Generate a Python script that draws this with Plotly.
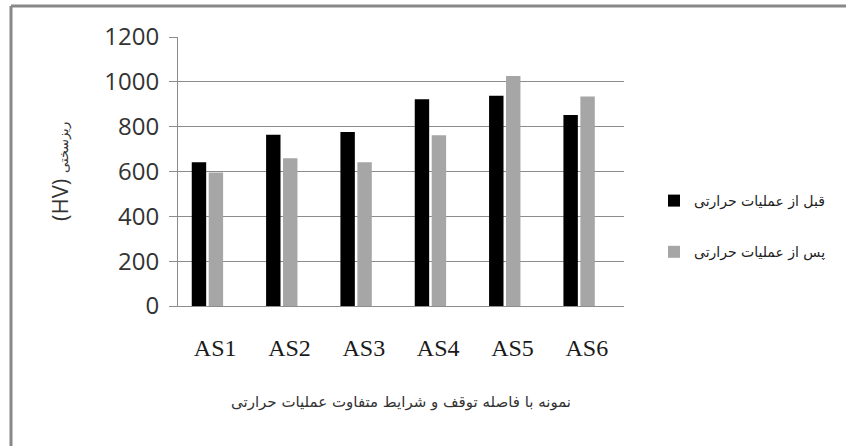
import plotly.graph_objects as go

categories = ["AS1", "AS2", "AS3", "AS4", "AS5", "AS6"]
before_heat = [641, 764, 776, 922, 938, 852]
after_heat = [595, 659, 641, 762, 1026, 935]
series_names = ["قبل از عملیات حرارتی", "پس از عملیات حرارتی"]
y_ticks = [0, 200, 400, 600, 800, 1000, 1200]

W, H = 846, 446
L, R, T, B = 178, 222, 37, 140
pw, ph = W - L - R, H - T - B

fig = go.Figure()
fig.add_trace(go.Bar(x=categories, y=before_heat, name=series_names[0],
                     marker=dict(color="#000000", line=dict(width=0)),
                     width=0.194, offset=-0.315, legendgroup="a"))
fig.add_trace(go.Bar(x=categories, y=after_heat, name=series_names[1],
                     marker=dict(color="#a6a6a6", line=dict(width=0)),
                     width=0.194, offset=-0.087, legendgroup="b"))

def px_x(x):
    return (x - L) / pw

def px_y(y):
    return (H - B - y) / ph

fig.update_layout(
    width=W, height=H,
    margin=dict(l=L, r=R, t=T, b=B),
    paper_bgcolor="white", plot_bgcolor="white",
    barmode="group",
    showlegend=True,
    legend=dict(x=px_x(654), y=px_y(185), xanchor="left", yanchor="top",
                font=dict(family="DejaVu Sans", size=14, color="#222"),
                tracegroupgap=30, itemwidth=30, bgcolor="rgba(0,0,0,0)"),
    xaxis=dict(range=[-0.5, 5.5], showgrid=False, showline=True, linecolor="#8c8c8c",
               linewidth=1, ticks="", zeroline=False,
               tickfont=dict(family="Liberation Serif", size=24, color="#1a1a1a"),
               ticklabelstandoff=20,
               title=dict(text="نمونه با فاصله توقف و شرایط متفاوت عملیات حرارتی",
                          font=dict(family="DejaVu Sans", size=15, color="#333"),
                          standoff=36)),
    yaxis=dict(range=[0, 1200], tickvals=y_ticks, showgrid=True, gridcolor="#8c8c8c",
               gridwidth=1, showline=True, linecolor="#8c8c8c", linewidth=1,
               ticks="outside", ticklen=8, tickcolor="#8c8c8c", zeroline=False,
               tickfont=dict(family="Open Sans", size=24, color="#333"),
               ticklabelstandoff=5,
               title=dict(text="(HV) <span style='font-size:13px'>ریزسختی</span>",
                          font=dict(family="Open Sans", size=22, color="#333"),
                          standoff=29)),
    shapes=[
        dict(type="line", xref="paper", yref="paper",
             x0=px_x(11), x1=px_x(846), y0=px_y(6), y1=px_y(6),
             line=dict(color="#888888", width=3)),
        dict(type="line", xref="paper", yref="paper",
             x0=px_x(11), x1=px_x(11), y0=px_y(6), y1=px_y(446),
             line=dict(color="#888888", width=3)),
    ],
)

fig.write_html("out.html", config={"displayModeBar": False},
               post_script="document.body.style.margin='0';")
